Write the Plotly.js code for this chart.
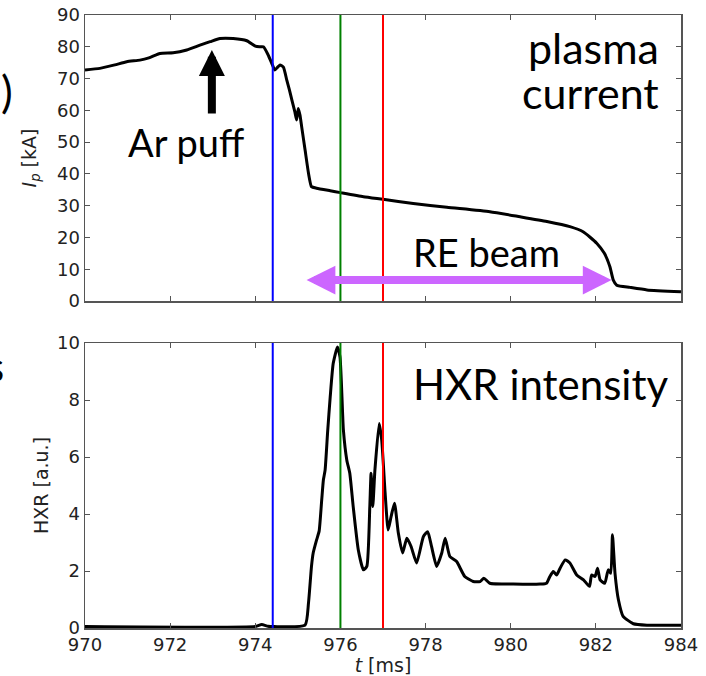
<!DOCTYPE html>
<html>
<head>
<meta charset="utf-8">
<script src="https://cdn.plot.ly/plotly-3.0.1.min.js"></script>
<style>html,body{margin:0;padding:0;background:#fff;}#chart{width:706px;height:676px;}</style>
</head>
<body>
<div id="chart"></div>
<script>
// Plasma current Ip [kA] vs time t [ms]
var ipTime = [970.0, 970.35, 970.7, 970.98, 971.29, 971.5, 971.76, 972.07, 972.39, 972.7, 972.94, 973.17, 973.48, 973.8, 974.0, 974.1, 974.19, 974.3, 974.38, 974.46, 974.52, 974.58, 974.66, 974.74, 974.8, 974.86, 974.93, 974.97, 975.01, 975.05, 975.09, 975.17, 975.25, 975.32, 975.44, 975.76, 976.0, 976.54, 977.0, 977.71, 978.5, 979.51, 980.22, 980.85, 981.39, 981.7, 982.02, 982.2, 982.33, 982.41, 982.49, 982.8, 983.2, 984.0];
var ipValue = [72.7, 73.2, 74.3, 75.3, 75.8, 76.5, 77.9, 78.1, 79.0, 80.5, 81.6, 82.6, 82.6, 81.9, 80.2, 80.0, 80.0, 77.5, 75.0, 72.7, 73.5, 74.3, 73.6, 69.5, 66.5, 63.2, 59.5, 57.0, 60.6, 58.5, 54.8, 47.5, 40.2, 36.0, 35.5, 34.7, 34.1, 32.8, 32.0, 30.7, 29.5, 28.1, 26.5, 25.0, 23.4, 21.8, 18.2, 15.0, 10.8, 6.6, 5.0, 4.3, 3.5, 2.9];

// HXR intensity [a.u.] vs time t [ms]
var hxrTime = [970.0, 974.0, 974.15, 974.3, 974.45, 975.17, 975.25, 975.32, 975.36, 975.44, 975.5, 975.56, 975.6, 975.64, 975.7, 975.76, 975.83, 975.93, 975.99, 976.07, 976.15, 976.22, 976.3, 976.42, 976.54, 976.62, 976.69, 976.72, 976.76, 976.81, 976.91, 976.97, 977.05, 977.12, 977.19, 977.27, 977.36, 977.46, 977.56, 977.66, 977.79, 977.95, 978.05, 978.14, 978.26, 978.38, 978.46, 978.57, 978.73, 978.92, 979.12, 979.28, 979.37, 979.51, 980.06, 980.69, 980.84, 980.92, 981.0, 981.08, 981.16, 981.28, 981.39, 981.55, 981.71, 981.85, 981.9, 981.98, 982.04, 982.1, 982.21, 982.29, 982.35, 982.39, 982.45, 982.53, 982.64, 982.88, 983.2, 984.0];
var hxrValue = [0.05, 0.05, 0.12, 0.06, 0.05, 0.1, 0.88, 2.16, 2.63, 3.09, 3.4, 4.49, 5.2, 5.54, 6.9, 8.11, 9.28, 9.86, 9.51, 6.94, 5.89, 5.43, 4.26, 2.74, 2.04, 2.16, 4.26, 5.43, 4.26, 5.54, 7.18, 6.59, 4.73, 3.44, 3.91, 4.38, 3.33, 2.63, 3.15, 2.86, 2.28, 3.21, 3.38, 2.86, 2.16, 2.63, 3.15, 2.51, 2.33, 1.81, 1.63, 1.63, 1.75, 1.57, 1.54, 1.54, 1.57, 1.81, 1.98, 1.86, 2.1, 2.39, 2.28, 1.86, 1.69, 1.46, 1.86, 1.81, 2.1, 1.69, 1.57, 2.04, 1.92, 3.27, 1.92, 0.99, 0.41, 0.15, 0.1, 0.1];

// Event markers (time, colour)
var eventTimes = [974.41, 976.0, 977.0];
var eventColors = ['#0000ff', '#008000', '#ff0000'];

// Annotation arrows (data coordinates)
var puffTime = 972.98, puffTip = 79.0, puffTail = 58.5;
var beamStart = 975.17, beamEnd = 982.37, beamLevel = 6.6;

var tickFont = {family: 'DejaVu Sans', size: 18, color: '#222'};
var labelFont = {family: 'DejaVu Sans', size: 19, color: '#222'};
var txtFont = 'Lato';

var traces = [
  {x: ipTime, y: ipValue, xaxis: 'x', yaxis: 'y', mode: 'lines', line: {color: '#000', width: 3, shape: 'spline', smoothing: 0.5}, hoverinfo: 'skip'},
  {x: hxrTime, y: hxrValue, xaxis: 'x2', yaxis: 'y2', mode: 'lines', line: {color: '#000', width: 3, shape: 'spline', smoothing: 0.5}, hoverinfo: 'skip'}
];

var shapes = [];
eventTimes.forEach(function (t, i) {
  shapes.push({type: 'line', xref: 'x', yref: 'y domain', x0: t, x1: t, y0: 0, y1: 1, line: {color: eventColors[i], width: 2}});
  shapes.push({type: 'line', xref: 'x2', yref: 'y2 domain', x0: t, x1: t, y0: 0, y1: 1, line: {color: eventColors[i], width: 2}});
});

var axisCommon = {
  showline: true, linecolor: '#555', linewidth: 1.5, mirror: 'ticks',
  ticks: 'inside', ticklen: 5, tickcolor: '#555', tickwidth: 1,
  showgrid: false, zeroline: false, tickfont: tickFont
};

var layout = {
  width: 706, height: 676,
  margin: {l: 85, r: 25, t: 15, b: 48},
  paper_bgcolor: '#fff', plot_bgcolor: '#fff',
  showlegend: false,
  xaxis: Object.assign({}, axisCommon, {domain: [0, 1], anchor: 'y', range: [970, 984], dtick: 2, tick0: 970, showticklabels: false}),
  yaxis: Object.assign({}, axisCommon, {domain: [0.5334, 1], anchor: 'x', range: [0, 90], dtick: 10, tick0: 0,
    title: {text: '<i>I</i><sub><i>p</i></sub> [kA]', font: labelFont, standoff: 15}}),
  xaxis2: Object.assign({}, axisCommon, {domain: [0, 1], anchor: 'y2', range: [970, 984], dtick: 2, tick0: 970,
    title: {text: '<i>t</i> [ms]', font: labelFont, standoff: 6}}),
  yaxis2: Object.assign({}, axisCommon, {domain: [0, 0.4649], anchor: 'x2', range: [0, 10], dtick: 2, tick0: 0,
    title: {text: 'HXR [a.u.]', font: labelFont, standoff: 3}}),
  shapes: shapes,
  annotations: [
    {xref: 'x domain', yref: 'y domain', x: 0.967, y: 0.885, xanchor: 'right', yanchor: 'middle', showarrow: false,
      text: 'plasma', font: {family: txtFont, size: 43, color: '#000'}},
    {xref: 'x domain', yref: 'y domain', x: 0.967, y: 0.73, xanchor: 'right', yanchor: 'middle', showarrow: false,
      text: 'current', font: {family: txtFont, size: 43, color: '#000'}},
    {xref: 'x domain', yref: 'y domain', x: 0.17, y: 0.555, xanchor: 'center', yanchor: 'middle', showarrow: false,
      text: 'Ar puff', font: {family: txtFont, size: 38, color: '#000'}},
    {xref: 'x domain', yref: 'y domain', x: 0.673, y: 0.17, xanchor: 'center', yanchor: 'middle', showarrow: false,
      text: 'RE beam', font: {family: txtFont, size: 38, color: '#000'}},
    {xref: 'x2 domain', yref: 'y2 domain', x: 0.982, y: 0.855, xanchor: 'right', yanchor: 'middle', showarrow: false,
      text: 'HXR intensity', font: {family: txtFont, size: 42, color: '#000'}},
    {xref: 'x', yref: 'y', axref: 'x', ayref: 'y', x: puffTime, y: puffTip, ax: puffTime, ay: puffTail,
      showarrow: true, arrowhead: 2, arrowsize: 0.65, arrowwidth: 8, arrowcolor: '#000', standoff: 0, text: ''},
    {xref: 'x', yref: 'y', axref: 'x', ayref: 'y', x: beamEnd, y: beamLevel, ax: beamStart, ay: beamLevel,
      showarrow: true, arrowhead: 2, startarrowhead: 2, arrowside: 'end+start', arrowsize: 0.72, startarrowsize: 0.72,
      arrowwidth: 8, arrowcolor: '#cc66ff', standoff: 0, startstandoff: 0, text: ''},
    // clipped slide text at the left edge
    {xref: 'paper', yref: 'paper', x: -0.117, y: 0.876, xanchor: 'right', yanchor: 'middle', showarrow: false,
      text: ')', font: {family: txtFont, size: 44, color: '#000'}},
    {xref: 'paper', yref: 'paper', x: -0.1378, y: 0.60, xanchor: 'right', yanchor: 'middle', showarrow: false,
      text: ')', font: {family: txtFont, size: 44, color: '#000'}},
    {xref: 'paper', yref: 'paper', x: -0.133, y: 0.427, xanchor: 'right', yanchor: 'middle', showarrow: false,
      text: 's', font: {family: txtFont, size: 42, color: '#000'}}
  ]
};

Plotly.newPlot('chart', traces, layout, {staticPlot: true, displayModeBar: false});
</script>
</body>
</html>
